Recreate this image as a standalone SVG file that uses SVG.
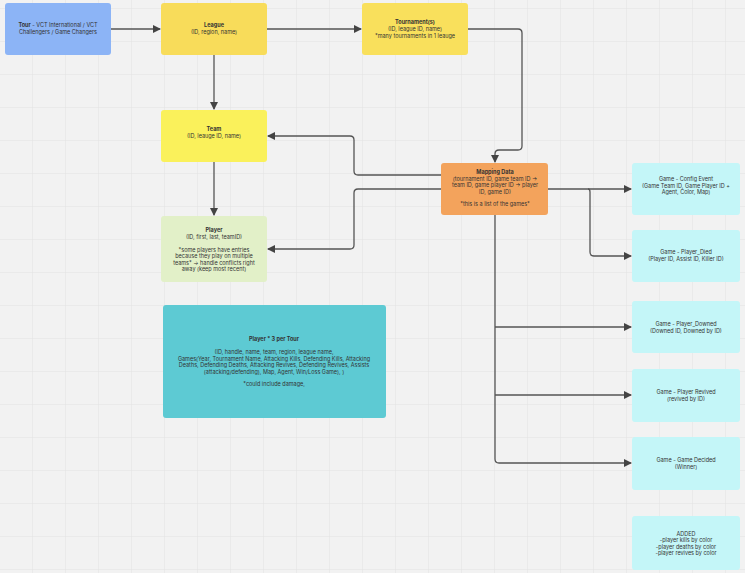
<svg xmlns="http://www.w3.org/2000/svg" width="745" height="573" viewBox="0 0 745 573">
<defs>
<pattern id="grid" width="33" height="33" patternUnits="userSpaceOnUse" x="0" y="9"><path d="M33 0V33H0" fill="none" stroke="#e2e2e2" stroke-width="1"/></pattern>
<marker id="ah" markerWidth="8" markerHeight="8" refX="7" refY="4" orient="auto" markerUnits="userSpaceOnUse"><path d="M0 0L8 4L0 8z" fill="#444"/></marker>
<style>
text{font-family:Inter,"Liberation Sans",sans-serif;font-size:5.5px;fill:#333;text-anchor:middle}
.b{font-weight:bold}
.c path{fill:none;stroke:#555;stroke-width:1.3;marker-end:url(#ah)}
.g rect{fill:#c4f6f8}
</style>
</defs>
<rect width="745" height="573" fill="#f2f2f2"/>
<rect width="745" height="573" fill="url(#grid)"/>
<g class="c" id="connectors">
<path d="M111 29H160"/>
<path d="M267 29H361"/>
<path d="M468 29H518Q522 29 522 33V146Q522 150 518 150H499Q495 150 495 154V162"/>
<path d="M214 55V109"/>
<path d="M214 162V215"/>
<path d="M441 175H358Q354 175 354 171V140Q354 136 350 136H268"/>
<path d="M441 189H358Q354 189 354 193V245Q354 249 350 249H268"/>
<path d="M548 189H631"/>
<path d="M588 189Q590 189 590 192V252Q590 256 594 256H631"/>
<path d="M495 215V459Q495 463 499 463H631"/>
<path d="M495 327H631"/>
<path d="M495 395H631"/>
</g>
<g id="tour"><rect x="5" y="3" width="106" height="52" rx="3" fill="#8cb4f6"/>
<text x="58" y="27"><tspan class="b">Tour</tspan> - VCT International / VCT</text><text x="58" y="34">Challengers / Game Changers</text></g>
<g id="league"><rect x="161" y="3" width="106" height="52" rx="3" fill="#f8dc5a"/>
<text x="214" y="27" class="b">League</text><text x="214" y="34">(ID, region, name)</text></g>
<g id="tournament"><rect x="362" y="3" width="106" height="52" rx="3" fill="#f9e05c"/>
<text x="415" y="24" class="b">Tournament(s)</text><text x="415" y="31">(ID, league ID, name)</text><text x="415" y="38">*many tournaments in 1 leauge</text></g>
<g id="team"><rect x="161" y="110" width="106" height="52" rx="3" fill="#faf15b"/>
<text x="214" y="131" class="b">Team</text><text x="214" y="138">(ID, leauge ID, name)</text></g>
<g id="player"><rect x="161" y="216" width="106" height="66" rx="3" fill="#e2f0c8"/>
<text x="214" y="232" class="b">Player</text><text x="214" y="238.5">(ID, first, last, teamID)</text>
<text x="214" y="251.5">*some players have entries</text><text x="214" y="258">because they play on multiple</text><text x="214" y="264.5">teams* -&gt; handle conflicts right</text><text x="214" y="271">away (keep most recent)</text></g>
<g id="mapping"><rect x="441" y="163" width="107" height="52" rx="3" fill="#f3a35c"/>
<text x="495" y="174" class="b">Mapping Data</text><text x="495" y="180.5">(tournament ID, game team ID -&gt;</text><text x="495" y="187">team ID, game player ID -&gt; player</text><text x="495" y="193.5">ID, game ID)</text><text x="495" y="206">*this is a list of the games*</text></g>
<g id="playertour"><rect x="163" y="305" width="223" height="113" rx="3" fill="#5dcad3"/>
<text x="274" y="341" class="b">Player * 3 per Tour</text>
<text x="274" y="354">(ID, handle, name, team, region, league name,</text>
<text x="274" y="360.5">Games(Year, Tournament Name, Attacking Kills, Defending Kills, Attacking</text>
<text x="274" y="367">Deaths, Defending Deaths, Attacking Revives, Defending Revives, Assists</text>
<text x="274" y="373.5">(attacking/defending), Map, Agent, Win/Loss Game), )</text>
<text x="274" y="386">*could include damage,</text></g>
<g id="config" class="g"><rect x="632" y="163" width="108" height="52" rx="3"/>
<text x="686" y="181">Game - Config Event</text><text x="686" y="187.5">(Game Team ID, Game Player ID +</text><text x="686" y="194">Agent, Color,  Map)</text></g>
<g id="died" class="g"><rect x="632" y="230" width="108" height="52" rx="3"/>
<text x="686" y="254">Game - Player_Died</text><text x="686" y="260.5">(Player ID, Assist ID, Killer ID)</text></g>
<g id="downed" class="g"><rect x="632" y="301" width="108" height="52" rx="3"/>
<text x="686" y="326">Game - Player_Downed</text><text x="686" y="332.5">(Downed ID, Downed by ID)</text></g>
<g id="revived" class="g"><rect x="632" y="369" width="108" height="53" rx="3"/>
<text x="686" y="394">Game - Player Revived</text><text x="686" y="400.5">(revived by ID)</text></g>
<g id="decided" class="g"><rect x="632" y="437" width="108" height="53" rx="3"/>
<text x="686" y="462">Game - Game Decided</text><text x="686" y="468.5">(Winner)</text></g>
<g id="added" class="g"><rect x="632" y="516" width="108" height="54" rx="3"/>
<text x="686" y="535.5">ADDED</text><text x="686" y="542">-player kills by color</text><text x="686" y="548.5">-player deaths by color</text><text x="686" y="555">-player revives by color</text></g>
</svg>
